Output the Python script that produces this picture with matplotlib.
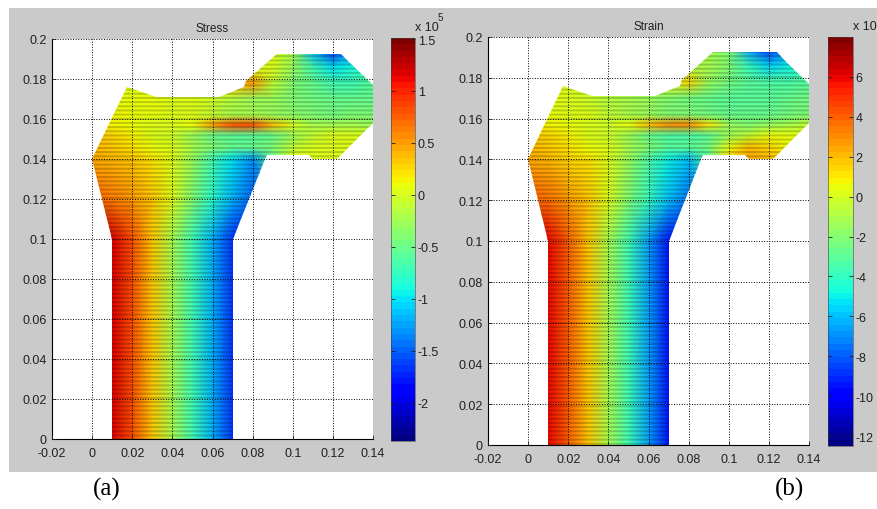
import numpy as np
import matplotlib
matplotlib.use('Agg')
import matplotlib.pyplot as plt
from matplotlib.patches import Polygon, Rectangle

plt.rcParams['font.family'] = ['Liberation Sans', 'DejaVu Sans']
plt.rcParams['hatch.linewidth'] = 1.5

# nodes of the colour field (m)
grid_x = [0.0, 0.01, 0.02, 0.03, 0.04, 0.05, 0.06, 0.07,
          0.08, 0.09, 0.10, 0.11, 0.12, 0.13, 0.14]
grid_y = [0.0, 0.1, 0.12, 0.14, 0.146, 0.152, 0.157, 0.162,
          0.17, 0.178, 0.186, 0.195]

# stress at the nodes, x 10^5 (rows = grid_y, cols = grid_x)
stress = [
    [1.5, 1.2, 0.8, 0.35, -0.2, -0.7, -1.2, -1.7, -1.9, -1.9, -1.9, -1.9, -1.9, -1.9, -1.9],
    [1.5, 1.2, 0.8, 0.35, -0.2, -0.7, -1.2, -1.7, -1.9, -1.9, -1.9, -1.9, -1.9, -1.9, -1.9],
    [0.75, 0.65, 0.5, 0.3, 0.05, -0.4, -0.8, -1.2, -1.5, -1.5, -1.5, -1.5, -1.5, -1.5, -1.5],
    [0.45, 0.4, 0.3, 0.2, 0.0, -0.3, -0.7, -1.0, -1.3, -0.5, 0.0, 0.05, 0.05, 0.0, 0.0],
    [0.4, 0.35, 0.2, 0.1, 0.0, -0.2, -0.4, -0.5, -0.5, -0.4, -0.1, 0.0, 0.05, 0.05, 0.0],
    [0.3, 0.25, 0.15, 0.05, -0.05, -0.3, -0.5, -0.6, -0.6, -0.5, -0.3, -0.1, 0.0, 0.0, 0.0],
    [0.2, 0.15, 0.1, 0.05, 0.0, 0.1, 0.5, 0.8, 0.8, 0.4, 0.0, -0.2, -0.2, -0.2, -0.3],
    [0.15, 0.15, 0.1, 0.1, 0.05, 0.0, -0.1, -0.2, -0.2, -0.3, -0.35, -0.4, -0.45, -0.4, -0.4],
    [0.1, 0.1, 0.1, 0.1, 0.05, 0.0, -0.05, -0.15, -0.25, -0.3, -0.4, -0.45, -0.5, -0.5, -0.5],
    [0.05, 0.05, 0.05, 0.05, 0.0, 0.0, 0.0, 0.3, 0.5, -0.1, -0.4, -0.5, -0.7, -0.7, -0.6],
    [0.0, 0.0, 0.0, 0.0, 0.0, 0.0, 0.0, 0.0, 0.0, 0.0, -0.3, -0.7, -1.0, -0.9, -0.7],
    [0.0, 0.0, 0.0, 0.0, 0.0, 0.0, 0.0, 0.0, 0.0, 0.0, -0.2, -1.2, -1.8, -1.2, -0.8],
]

# strain at the nodes (exponent cut off in the original)
strain = [
    [7.0, 5.8, 4.0, 1.8, -1.0, -3.8, -6.5, -9.3, -10, -10, -10, -10, -10, -10, -10],
    [7.0, 5.8, 4.0, 1.8, -1.0, -3.8, -6.5, -9.3, -10, -10, -10, -10, -10, -10, -10],
    [4.0, 3.6, 2.8, 1.6, 0.0, -2.0, -4.0, -6.0, -7.5, -7.5, -7.5, -7.5, -7.5, -7.5, -7.5],
    [2.3, 2.0, 1.5, 1.0, 0.0, -1.5, -3.5, -5.0, -6.0, -3.0, 1.5, 2.5, 2.0, 1.0, 0.5],
    [2.0, 1.7, 1.0, 0.5, 0.0, -1.0, -2.0, -3.0, -3.0, -2.5, 0.5, 2.0, 1.5, 0.5, 0.0],
    [1.6, 1.3, 0.8, 0.3, -0.3, -1.5, -2.8, -3.5, -3.5, -3.0, -1.5, -0.5, 0.5, 0.5, 0.0],
    [1.0, 0.8, 0.5, 0.2, -0.2, 0.5, 2.0, 3.0, 3.0, 1.0, -1.5, -2.0, -1.5, -1.0, -0.5],
    [0.8, 0.6, 0.3, 0.0, -0.5, -1.0, -1.5, -2.0, -2.2, -2.5, -2.8, -2.8, -2.8, -2.5, -2.0],
    [0.8, 0.5, 0.3, -0.2, -0.8, -1.2, -1.6, -2.2, -2.5, -2.8, -3.0, -3.0, -3.0, -2.8, -2.5],
    [0.5, 0.3, 0.2, -0.3, -0.8, -1.2, -1.0, 0.5, 1.5, -1.5, -2.5, -3.0, -3.5, -3.5, -3.0],
    [0.0, 0.0, 0.0, -0.3, -0.6, -0.8, -1.0, -1.0, -1.0, -1.0, -2.0, -4.0, -5.5, -5.0, -4.0],
    [0.0, 0.0, 0.0, -0.3, -0.6, -0.8, -1.0, -1.0, -1.0, -1.0, -2.0, -7.0, -9.5, -7.0, -5.0],
]

# bone outline (m)
outline_x = [0.01, 0.07, 0.07, 0.0863, 0.087, 0.108, 0.110, 0.122, 0.14, 0.14,
             0.129, 0.124, 0.092, 0.0765, 0.0755, 0.063, 0.032, 0.0174, 0.0, 0.01]
outline_y = [0.0, 0.0, 0.1, 0.14, 0.142, 0.142, 0.14, 0.14, 0.158, 0.177,
             0.1875, 0.1925, 0.1925, 0.179, 0.176, 0.171, 0.171, 0.176, 0.14, 0.1]

titles = ['Stress', 'Strain']
fields = [stress, strain]
limits = [(-2.37, 1.51), (-12.5, 8.0)]
cbar_ticks = [[-2, -1.5, -1, -0.5, 0, 0.5, 1, 1.5],
              [-12, -10, -8, -6, -4, -2, 0, 2, 4, 6]]
x_ticks = [-0.02, 0, 0.02, 0.04, 0.06, 0.08, 0.1, 0.12, 0.14]
y_ticks = [0, 0.02, 0.04, 0.06, 0.08, 0.1, 0.12, 0.14, 0.16, 0.18, 0.2]
exponents = ['5', '']
panel_tags = ['(a)', '(b)']

W, H = 877, 510
fig = plt.figure(figsize=(W / 100, H / 100), dpi=100)
fig.patch.set_facecolor('white')
fig.patches.append(Rectangle((9 / W, 37 / H), 1 - 9 / W, 464 / H,
                             transform=fig.transFigure, facecolor='#cacaca',
                             edgecolor='none', zorder=-10))

# pixel boxes: axes (left, top, right, bottom), colorbar likewise
ax_boxes = [(52, 40, 373, 440), (488, 38, 809, 446)]
cb_boxes = [(391, 39, 415, 442), (828, 38, 853, 447)]
tag_x = [107, 789]

jet = plt.get_cmap('jet', 64)
X, Y = np.meshgrid(grid_x, grid_y)

for i in range(2):
    l, t, r, b = ax_boxes[i]
    ax = fig.add_axes([l / W, (H - b) / H, (r - l) / W, (b - t) / H])
    ax.set_facecolor('white')
    mesh = ax.pcolormesh(X, Y, np.array(fields[i]), shading='gouraud', cmap=jet,
                         vmin=limits[i][0], vmax=limits[i][1])
    bone = Polygon(np.column_stack([outline_x, outline_y]), closed=True,
                   facecolor='none', edgecolor='none', transform=ax.transData)
    ax.add_patch(bone)
    mesh.set_clip_path(bone)
    # scan-line banding of the original rendering
    stripes = Polygon(np.column_stack([outline_x, outline_y]), closed=True,
                      facecolor='none', edgecolor=(0, 0, 0, 0.2), lw=0,
                      hatch='----', zorder=3)
    ax.add_patch(stripes)

    ax.set_xlim(-0.02, 0.14)
    ax.set_ylim(0, 0.2)
    ax.set_xticks(x_ticks)
    ax.set_yticks(y_ticks)
    ax.set_xticklabels(['%g' % v for v in x_ticks])
    ax.set_yticklabels(['%g' % v for v in y_ticks])
    ax.tick_params(direction='in', length=3, width=0.6, labelsize=9,
                   colors='#202020')
    ax.tick_params(axis='x', pad=6)
    ax.tick_params(axis='y', pad=4)
    ax.grid(True, color='black', linestyle=':', linewidth=0.7)
    ax.set_axisbelow(False)
    for side in ['top', 'right']:
        ax.spines[side].set_visible(False)
    for side in ['left', 'bottom']:
        ax.spines[side].set_linewidth(0.8)
    ax.set_title(titles[i], fontsize=8.5, pad=6, color='#202020')

    l, t, r, b = cb_boxes[i]
    cax = fig.add_axes([l / W, (H - b) / H, (r - l) / W, (b - t) / H])
    cb = fig.colorbar(mesh, cax=cax, ticks=cbar_ticks[i])
    cb.ax.set_yticklabels(['%g' % v for v in cbar_ticks[i]])
    cb.outline.set_linewidth(0.4)
    cb.outline.set_edgecolor('#404040')
    cax.tick_params(axis='y', which='both', direction='in', left=True, right=True,
                    length=3, width=0.6, labelsize=9, pad=2, colors='#202020')
    cax.text(1.0, 1.012, 'x 10', transform=cax.transAxes, fontsize=9,
             ha='left', va='bottom', color='#202020')
    if exponents[i]:
        cax.text(1.95, 1.04, exponents[i], transform=cax.transAxes, fontsize=7,
                 ha='left', va='bottom', color='#202020')

    fig.text(tag_x[i] / W, 21 / H, panel_tags[i], fontsize=18, ha='center',
             va='center', family=['Liberation Serif', 'DejaVu Serif'])

fig.savefig('out.png', dpi=100)
